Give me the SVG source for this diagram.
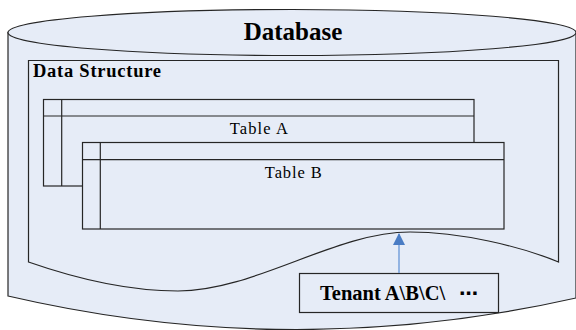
<svg xmlns="http://www.w3.org/2000/svg" width="576" height="330" viewBox="0 0 576 330">
  <defs>
    <marker id="arrowHead" viewBox="0 0 12 12" refX="11" refY="6" markerWidth="12" markerHeight="12" markerUnits="userSpaceOnUse" orient="auto">
      <path d="M0,0 L12,6 L0,12 Z" fill="#4A7CC4"/>
    </marker>
  </defs>
  <style>
    .shape { fill: #E6ECF7; stroke: #262626; stroke-width: 1.2; }
    .line { fill: none; stroke: #262626; stroke-width: 1.2; }
    .title { font-family: "Liberation Serif", "Times New Roman", serif; font-weight: bold; fill: #000; }
    .label { font-family: "Liberation Serif", "Times New Roman", serif; fill: #000; }
    .dots { font-family: "DejaVu Sans", sans-serif; font-weight: bold; }
    .link { fill: none; stroke: #7EA6DC; stroke-width: 1.6; }
  </style>
  <rect width="576" height="330" fill="#FFFFFF"/>

  <!-- Database cylinder -->
  <g id="database">
    <path class="shape" d="M8,32.5 L8,296 Q292,362 576,298 L576,32.5 Z"/>
    <ellipse class="shape" cx="292" cy="32.5" rx="284" ry="23"/>
    <text class="title" x="293" y="40" font-size="25" text-anchor="middle">Database</text>
  </g>

  <!-- Data structure document shape -->
  <g id="data-structure">
    <path class="shape" d="M28.5,60.5 L558.5,60.5 L558.5,262 C520,246 460,232 410,232 C335,232 255,291 178,291 C128,291 80,280 28.5,262 Z"/>
    <text class="title" x="33" y="76.5" font-size="18.5" textLength="128" lengthAdjust="spacing">Data  Structure</text>
  </g>

  <!-- Table A -->
  <g id="table-a">
    <rect class="shape" x="43.5" y="99.5" width="430.5" height="86.5"/>
    <path class="line" d="M43.5,116 L474,116 M61.7,99.5 L61.7,186"/>
    <text class="label" x="258.8" y="134" font-size="16.5" text-anchor="middle" textLength="58" lengthAdjust="spacing">Table  A</text>
  </g>

  <!-- Table B -->
  <g id="table-b">
    <rect class="shape" x="82.5" y="142.5" width="421.5" height="86.5"/>
    <path class="line" d="M82.5,159.7 L504,159.7 M100.3,142.5 L100.3,229"/>
    <text class="label" x="293.3" y="178" font-size="16.5" text-anchor="middle" textLength="57" lengthAdjust="spacing">Table  B</text>
  </g>

  <!-- Tenant box -->
  <g id="tenant">
    <rect class="shape" x="299.5" y="273.5" width="199" height="39"/>
    <text class="title" x="320" y="300" font-size="20.5">Tenant A\B\C\ <tspan class="dots" x="459" font-size="19">⋯</tspan></text>
  </g>

  <!-- Connectors -->
  <g id="connectors">
    <path class="link" d="M399,273 L399,234" marker-end="url(#arrowHead)"/>
  </g>
</svg>
